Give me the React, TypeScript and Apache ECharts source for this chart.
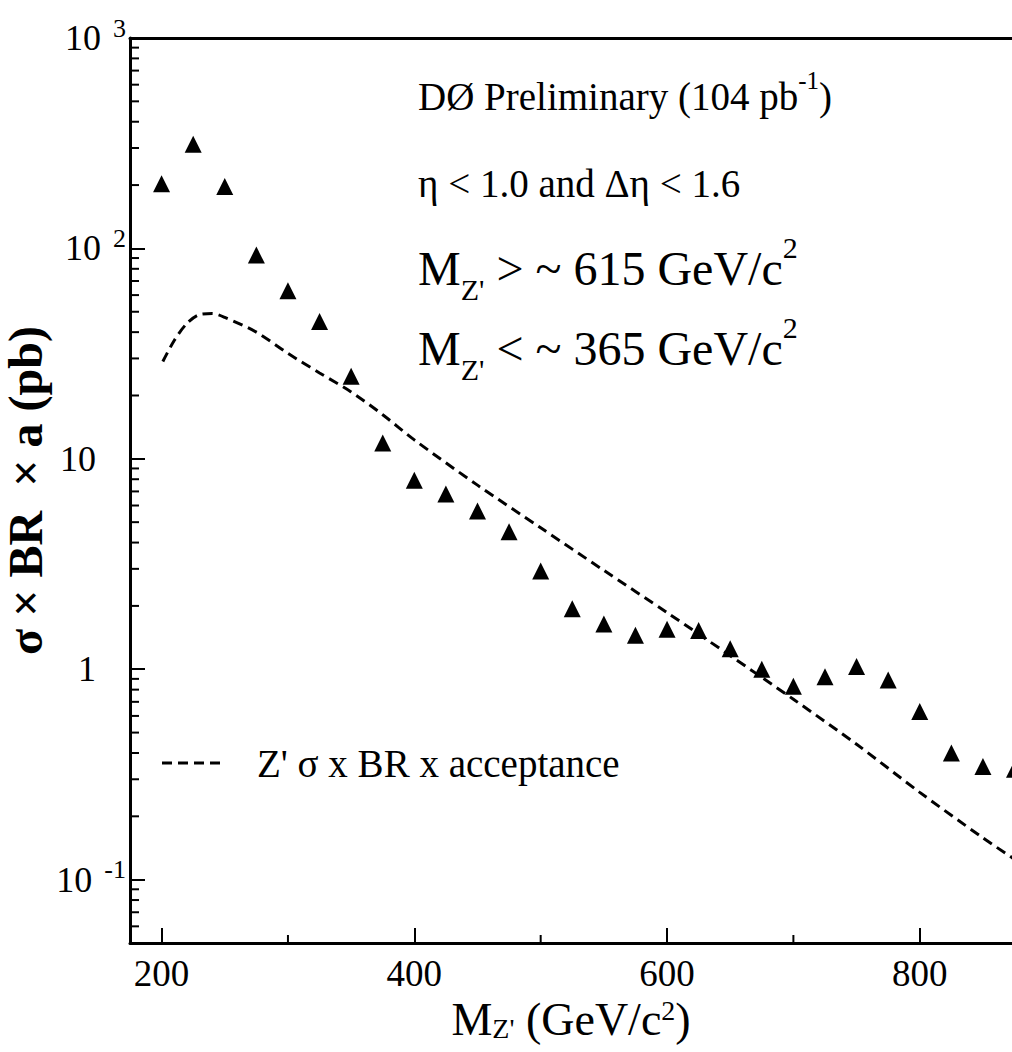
import React, { useEffect, useRef } from 'react';
import * as echarts from 'echarts';

// Data points (triangles): Z' mass (GeV/c^2) vs sigma x BR x a limit (pb)
const massPoints = [200, 225, 250, 275, 300, 325, 350, 375, 400, 425, 450, 475, 500, 525, 550, 575, 600, 625, 650, 675, 700, 725, 750, 775, 800, 825, 850, 875];
const sigmaLimit = [203, 313, 197, 93, 63, 45, 24.7, 11.9, 7.9, 6.8, 5.65, 4.5, 2.93, 1.94, 1.64, 1.45, 1.55, 1.53, 1.25, 1.0, 0.83, 0.92, 1.03, 0.89, 0.63, 0.4, 0.345, 0.335];

// Dashed curve: Z' sigma x BR x acceptance
const curveMass = [201, 210, 220, 230, 240, 250, 275, 300, 325, 350, 375, 400, 450, 500, 550, 600, 650, 700, 750, 800, 850, 875];
const curveSigma = [29, 36.5, 44, 48.5, 49, 47, 40, 31.7, 25.6, 20.8, 16.2, 12.3, 7.5, 4.7, 2.95, 1.86, 1.16, 0.72, 0.44, 0.26, 0.158, 0.125];

// Axis ticks
const xMin = 175;
const xMax = 873;
const yMin = 0.05;
const yMax = 1000;
const xMajorTicks = [200, 400, 600, 800];
const xMinorTicks = [300, 500, 700];
const yMajorTicks = [0.1, 1, 10, 100, 1000];
const yMinorTicks = [
  0.06, 0.07, 0.08, 0.09,
  0.2, 0.3, 0.4, 0.5, 0.6, 0.7, 0.8, 0.9,
  2, 3, 4, 5, 6, 7, 8, 9,
  20, 30, 40, 50, 60, 70, 80, 90,
  200, 300, 400, 500, 600, 700, 800, 900,
];

const FONT = 'Liberation Serif';

export default function App() {
  const ref = useRef<HTMLDivElement>(null);

  useEffect(() => {
    if (!ref.current) return;
    const chart = echarts.init(ref.current, undefined, { renderer: 'svg' });

    const yLabelFormatter = (v: number) => {
      const e = Math.round(Math.log10(v));
      if (e === 0) return '{p|1}';
      if (e === 1) return '{p|10}';
      return '{b|10}{s|' + e + '}';
    };

    const bigRich = {
      m: { fontSize: 48, fontFamily: FONT, color: '#000', lineHeight: 72 },
      sub: { fontSize: 30, fontFamily: FONT, color: '#000', lineHeight: 30, verticalAlign: 'bottom' },
      sup: { fontSize: 30, fontFamily: FONT, color: '#000', lineHeight: 30, verticalAlign: 'top' },
    };

    const option: any = {
      animation: false,
      backgroundColor: '#fff',
      textStyle: { fontFamily: FONT, color: '#000' },
      grid: { left: 130, right: 0, top: 38, bottom: 109, containLabel: false, outerBoundsMode: 'none' },
      xAxis: [
        {
          type: 'value',
          min: xMin,
          max: xMax,
          position: 'bottom',
          axisLine: { show: true, onZero: false, lineStyle: { color: '#000', width: 3 } },
          axisTick: { show: true, inside: true, length: 15, customValues: xMajorTicks, lineStyle: { color: '#000', width: 2 } },
          axisLabel: { show: true, customValues: xMajorTicks, color: '#000', fontFamily: FONT, fontSize: 37, lineHeight: 38, margin: 11 },
          splitLine: { show: false },
          name: "{m|M}{sub|Z'}{m| (GeV/c}{sup|2}{m|)}",
          nameLocation: 'middle',
          nameGap: 53,
          nameMoveOverlap: false,
          nameTextStyle: {
            color: '#000',
            fontFamily: FONT,
            rich: {
              m: { fontSize: 46, fontFamily: FONT, color: '#000', lineHeight: 46 },
              sub: { fontSize: 28, fontFamily: FONT, color: '#000', lineHeight: 16, verticalAlign: 'bottom' },
              sup: { fontSize: 28, fontFamily: FONT, color: '#000', lineHeight: 22, verticalAlign: 'top' },
            },
          },
        },
        {
          type: 'value',
          min: xMin,
          max: xMax,
          position: 'top',
          axisLine: { show: true, onZero: false, lineStyle: { color: '#000', width: 3 } },
          axisTick: { show: false },
          axisLabel: { show: false },
          splitLine: { show: false },
        },
      ],
      yAxis: {
        type: 'log',
        logBase: 10,
        min: yMin,
        max: yMax,
        axisLine: { show: true, onZero: false, lineStyle: { color: '#000', width: 3 } },
        axisTick: { show: true, inside: true, length: 15, customValues: yMajorTicks, lineStyle: { color: '#000', width: 2 } },
        axisLabel: {
          show: true,
          customValues: yMajorTicks,
          formatter: yLabelFormatter,
          margin: 4,
          rich: {
            p: { fontSize: 36, fontFamily: FONT, color: '#000', padding: [0, 30, 0, 0] },
            b: { fontSize: 36, fontFamily: FONT, color: '#000', lineHeight: 46 },
            s: { fontSize: 26, fontFamily: FONT, color: '#000', lineHeight: 26, verticalAlign: 'top', padding: [0, 0, 0, 12] },
          },
        },
        splitLine: { show: false },
        name: 'σ × BR  × a (pb)',
        nameLocation: 'middle',
        nameRotate: 90,
        nameGap: 80,
        nameMoveOverlap: false,
        nameTextStyle: { color: '#000', fontFamily: FONT, fontSize: 48, fontWeight: 'bold', lineHeight: 50 },
      },
      series: [
        {
          type: 'line',
          data: curveMass.map((m, i) => [m, curveSigma[i]]),
          smooth: 0.3,
          showSymbol: false,
          symbol: 'none',
          lineStyle: { color: '#000', width: 3, type: [10, 6], opacity: 1 },
          silent: true,
        },
        {
          type: 'scatter',
          data: massPoints.map((m, i) => [m, sigmaLimit[i]]),
          symbol: 'triangle',
          symbolSize: 17,
          itemStyle: { color: '#000', opacity: 1 },
          clip: false,
        },
        {
          type: 'custom',
          silent: true,
          clip: false,
          data: yMinorTicks.map((v) => [xMin, v]),
          renderItem: (params: any, api: any) => {
            const p = api.coord([api.value(0), api.value(1)]);
            return {
              type: 'line',
              shape: { x1: p[0], y1: p[1], x2: p[0] + 9, y2: p[1] },
              style: { stroke: '#000', lineWidth: 2 },
            };
          },
        },
        {
          type: 'custom',
          silent: true,
          clip: false,
          data: xMinorTicks.map((v) => [v, yMin]),
          renderItem: (params: any, api: any) => {
            const p = api.coord([api.value(0), api.value(1)]);
            return {
              type: 'line',
              shape: { x1: p[0], y1: p[1], x2: p[0], y2: p[1] - 8 },
              style: { stroke: '#000', lineWidth: 2 },
            };
          },
        },
      ],
      graphic: [
        {
          type: 'text',
          x: 418,
          y: 96,
          style: {
            text: '{a|DØ Preliminary (104 pb}{s|-1}{a|)}',
            verticalAlign: 'middle',
            align: 'left',
            rich: {
              a: { fontSize: 39, fontFamily: FONT, fill: '#000', lineHeight: 56 },
              s: { fontSize: 25, fontFamily: FONT, fill: '#000', lineHeight: 25, verticalAlign: 'top' },
            },
          },
        },
        {
          type: 'text',
          x: 418,
          y: 183,
          style: {
            text: 'η < 1.0 and Δη < 1.6',
            verticalAlign: 'middle',
            align: 'left',
            fontSize: 39,
            fontFamily: FONT,
            fill: '#000',
          },
        },
        {
          type: 'text',
          x: 418,
          y: 268,
          style: {
            text: "{m|M}{sub|Z'}{m| > ~ 615 GeV/c}{sup|2}",
            verticalAlign: 'middle',
            align: 'left',
            rich: bigRich,
          },
        },
        {
          type: 'text',
          x: 418,
          y: 348,
          style: {
            text: "{m|M}{sub|Z'}{m| < ~ 365 GeV/c}{sup|2}",
            verticalAlign: 'middle',
            align: 'left',
            rich: bigRich,
          },
        },
        {
          type: 'line',
          shape: { x1: 162, y1: 763, x2: 220, y2: 763 },
          style: { stroke: '#000', lineWidth: 3, lineDash: [10, 6] },
        },
        {
          type: 'text',
          x: 257,
          y: 763,
          style: {
            text: "Z' σ x BR x acceptance",
            verticalAlign: 'middle',
            align: 'left',
            fontSize: 39,
            fontFamily: FONT,
            fill: '#000',
          },
        },
      ],
    };

    chart.setOption(option);
    return () => chart.dispose();
  }, []);

  return (
    <div
      ref={ref}
      style={{ position: 'absolute', left: 0, top: 0, width: 1012, height: 1052, background: '#fff' }}
    />
  );
}
